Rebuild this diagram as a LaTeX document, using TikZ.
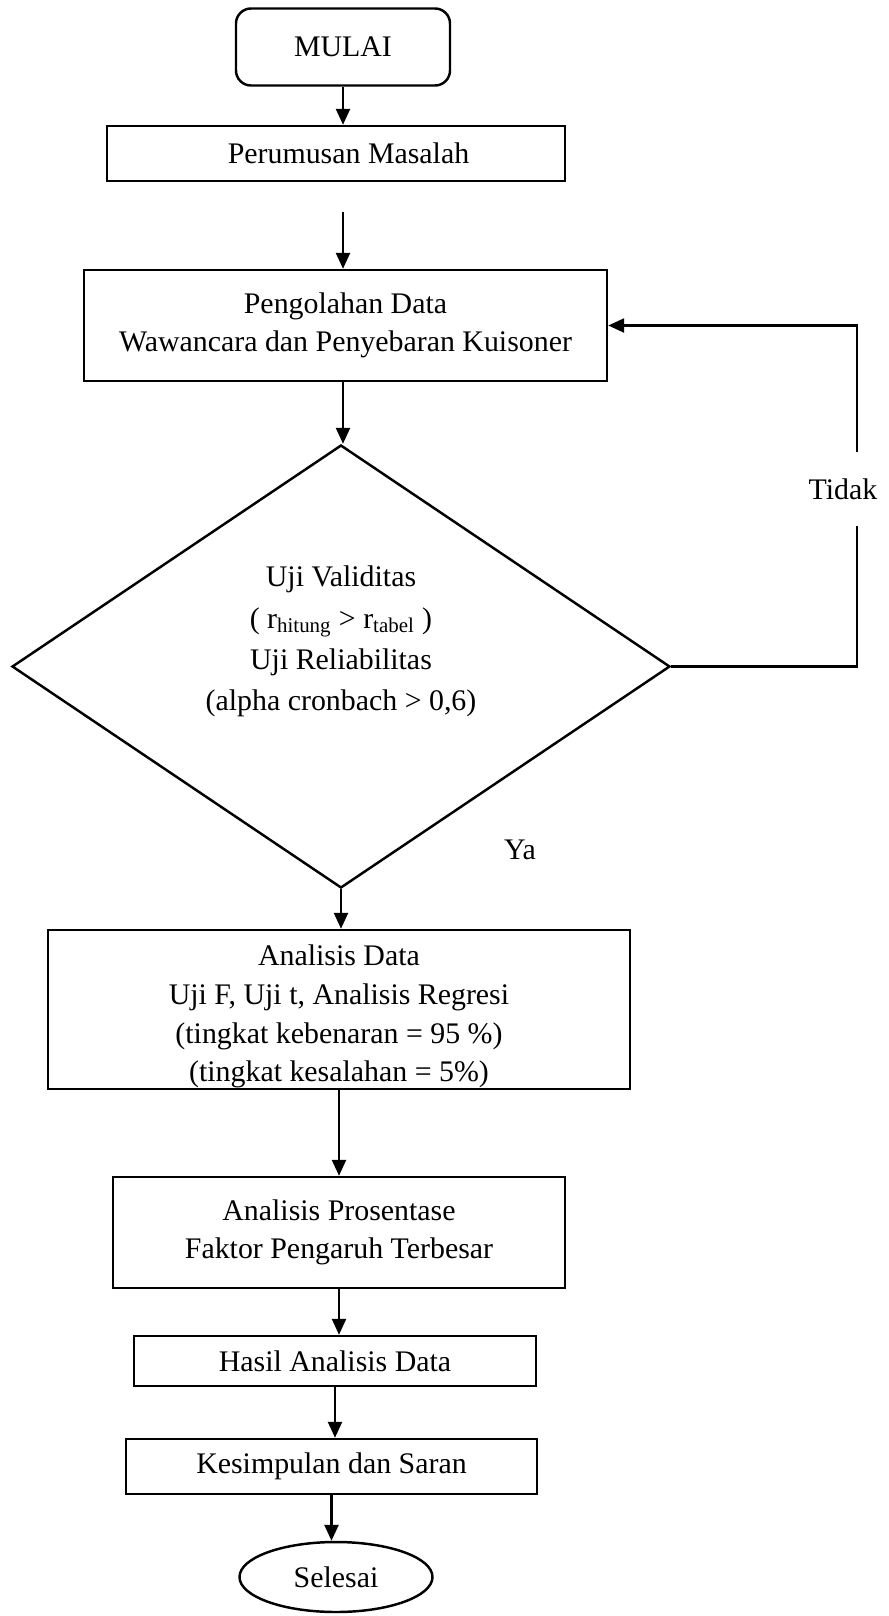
\documentclass[tikz,border=0pt]{standalone}
\usepackage{fontspec}
\setmainfont{Liberation Serif}
\usetikzlibrary{shapes.geometric,arrows.meta}

\begin{document}
\begin{tikzpicture}[
    font=\fontsize{17}{22}\selectfont,
    line width=1.4pt,
    kotak/.style={draw,rectangle,align=center,inner sep=0pt},
    panah/.style={-{Triangle[length=0.32cm,width=0.28cm]}}
]
\useasboundingbox (0,0) rectangle (17.78,-32.32);

\node [kotak,rounded corners=0.3cm,minimum width=4.28cm,minimum height=1.54cm]
    (mulai) at (6.86,-0.94) {MULAI};
\node [kotak,minimum width=9.16cm,minimum height=1.10cm]
    (rumus) at (6.72,-3.07) {\hspace*{0.5cm}Perumusan Masalah};
\node [kotak,minimum width=10.46cm,minimum height=2.22cm]
    (olah) at (6.91,-6.51) {Pengolahan Data\\Wawancara dan Penyebaran Kuisoner};
\node [draw,diamond,inner sep=0pt,minimum width=13.16cm,minimum height=8.86cm]
    (uji) at (6.82,-13.33) {};
\node [align=center,font=\fontsize{17}{23.5}\selectfont] (ujiteks) at ([yshift=0.5cm]uji.center)
    {Uji Validitas\\
     ( r\textsubscript{hitung} > r\textsubscript{tabel} )\\
     Uji Reliabilitas\\
     (alpha cronbach > 0,6)};
\node [kotak,minimum width=11.64cm,minimum height=3.18cm]
    (analisis) at (6.78,-20.19)
    {\rule{0pt}{20pt}Analisis Data\\Uji F, Uji t, Analisis Regresi\\
     (tingkat kebenaran = 95 \%)\\(tingkat kesalahan = 5\%)};
\node [kotak,minimum width=9.04cm,minimum height=2.22cm]
    (prosen) at (6.78,-24.65) {Analisis Prosentase\\Faktor Pengaruh Terbesar};
\node [kotak,minimum width=8.04cm,minimum height=1.00cm]
    (hasil) at (6.70,-27.22) {Hasil Analisis Data};
\node [kotak,minimum width=8.22cm,minimum height=1.10cm]
    (simpul) at (6.63,-29.33) {Kesimpulan dan Saran};
\node [draw,ellipse,inner sep=0pt,minimum width=3.86cm,minimum height=1.40cm]
    (selesai) at (6.72,-31.54) {Selesai};

\node (tidak) [minimum height=1.44cm,inner sep=0pt] at (16.86,-9.78) {Tidak};
\node (ya) at (10.40,-17.0) {Ya};

\draw[panah] (mulai.south)    -- (mulai.south |- rumus.north);
\draw[panah] ([yshift=-0.6cm]rumus.south -| mulai.south) -- (mulai.south |- olah.north);
\draw[panah] (mulai.south |- olah.south) -- (mulai.south |- uji.north);
\draw[panah] (uji.south)      -- (uji.south |- analisis.north);
\draw[panah] (analisis.south) -- (analisis.south |- prosen.north);
\draw[panah] (prosen.south)   -- (prosen.south |- hasil.north);
\draw[panah] (hasil.south)    -- (hasil.south |- simpul.north);
\draw[panah] (simpul.south)   -- (simpul.south |- selesai.north);

\draw (uji.east) -| ([xshift=0.28cm]tidak.south);
\draw[panah] ([xshift=0.28cm]tidak.north) |- (olah.east);
\end{tikzpicture}
\end{document}
